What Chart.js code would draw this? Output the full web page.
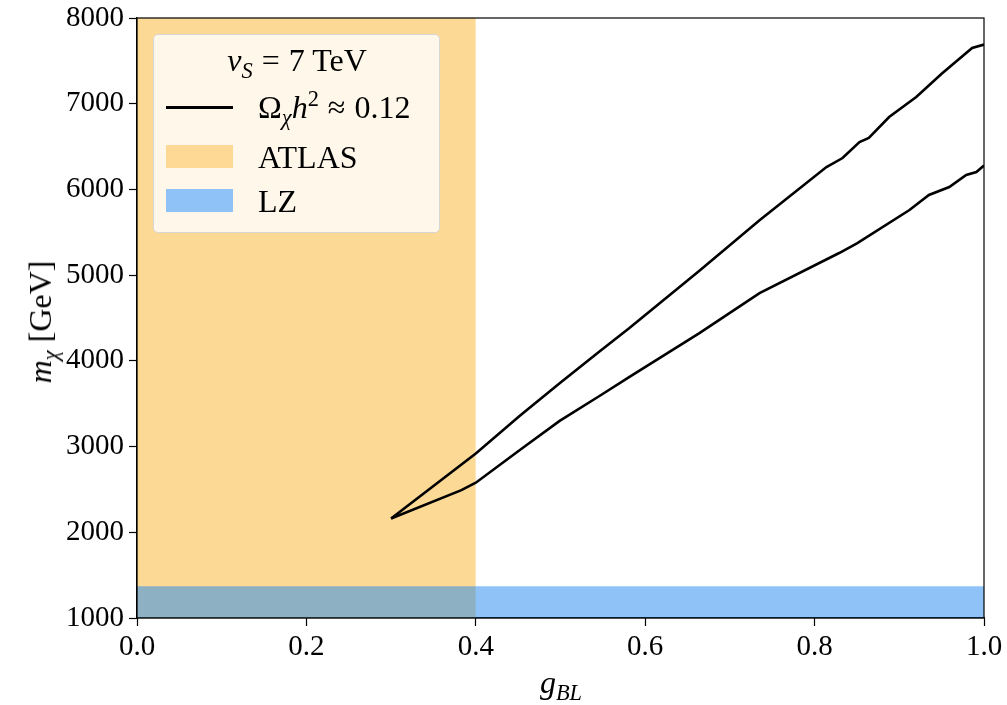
<!DOCTYPE html>
<html>
<head>
<meta charset="utf-8">
<script src="https://cdn.jsdelivr.net/npm/chart.js@4"></script>
<style>
  body { margin: 0; background: #fff; }
  #wrap { position: relative; width: 1007px; height: 705px; font-family: "Liberation Serif", serif; color: #000; }
  #wrap canvas { position: absolute; left: 0; top: 0; }
  .ov { position: absolute; white-space: nowrap; font-size: 32px; line-height: 36px; }
  .it { font-style: italic; }
  .op { padding: 0 9px; }
  sub, sup { font-size: 70%; line-height: 0; }
  #legend { position: absolute; left: 153px; top: 34px; width: 285px; height: 197px;
            background: rgba(255,255,255,0.8); border: 1px solid #d6d6d6; border-radius: 5px; }
  .swatch { position: absolute; left: 166px; width: 67px; }
</style>
</head>
<body>
<div id="wrap">
  <canvas id="chart" width="1007" height="705"></canvas>
  <div id="legend"></div>
  <div class="ov" style="left:0; top:42px; width:594px; text-align:center;"><span class="it">v<sub>S</sub></span><span class="op">=</span>7 TeV</div>
  <div class="swatch" style="top:106px; height:2.5px; background:#000;"></div>
  <div class="ov" style="left:258px; top:89px;">Ω<sub class="it">χ</sub><span class="it">h</span><sup>2</sup><span class="op">≈</span>0.12</div>
  <div class="swatch" style="top:145px; height:23px; background:#fdd995;"></div>
  <div class="ov" style="left:258px; top:139px;">ATLAS</div>
  <div class="swatch" style="top:189px; height:23px; background:#8fc3f8;"></div>
  <div class="ov" style="left:258px; top:183px;">LZ</div>
  <div class="ov" style="left:40px; top:322px; transform: translate(-50%,-50%) rotate(-90deg);"><span class="it">m<sub>χ</sub></span>&nbsp;[GeV]</div>
  <div class="ov" style="left:561px; top:682px; transform: translate(-50%,-50%);"><span class="it">g<sub>BL</sub></span></div>
</div>
<script>
// relic density curve, upper branch
const upperG = [0.30, 0.35, 0.40, 0.452, 0.499, 0.546, 0.581, 0.664, 0.735, 0.814, 0.833, 0.853, 0.864, 0.888, 0.92, 0.95, 0.986, 1.0];
const upperM = [2160, 2540, 2920, 3360, 3740, 4110, 4380, 5050, 5640, 6261, 6366, 6553, 6600, 6845, 7078, 7350, 7650, 7690];
// lower branch
const lowerG = [0.30, 0.383, 0.40, 0.452, 0.499, 0.546, 0.581, 0.664, 0.735, 0.829, 0.85, 0.912, 0.935, 0.959, 0.979, 0.991, 1.0];
const lowerM = [2160, 2492, 2578, 2960, 3300, 3590, 3811, 4324, 4791, 5258, 5370, 5760, 5935, 6028, 6168, 6203, 6280];

// excluded regions
const atlasGMax = 0.4;
const lzMassMax = 1370;

const xTicks = [0, 0.2, 0.4, 0.6, 0.8, 1.0];
const yTicks = [1000, 2000, 3000, 4000, 5000, 6000, 7000, 8000];

const toPts = (xs, ys) => xs.map((x, i) => ({ x: x, y: ys[i] }));

const frame = {
    id: 'frame',
    afterDatasetsDraw(chart) {
        const a = chart.chartArea, c = chart.ctx;
        c.save();
        c.strokeStyle = '#000';
        c.lineWidth = 1.2;
        c.strokeRect(a.left, a.top, a.right - a.left, a.bottom - a.top);
        c.restore();
    }
};

const tickFont = { family: 'Liberation Serif', size: 29 };

new Chart(document.getElementById('chart'), {
    type: 'line',
    data: {
        datasets: [
            {
                data: toPts(upperG, upperM),
                borderColor: '#000', borderWidth: 2.6, pointRadius: 0, tension: 0, order: 0
            },
            {
                data: toPts(lowerG, lowerM),
                borderColor: '#000', borderWidth: 2.6, pointRadius: 0, tension: 0, order: 0
            },
            {
                data: [{ x: 0, y: lzMassMax }, { x: 1, y: lzMassMax }],
                borderWidth: 0, pointRadius: 0, fill: 'start',
                backgroundColor: 'rgba(31,135,241,0.5)', order: 1
            },
            {
                data: [{ x: 0, y: 8000 }, { x: atlasGMax, y: 8000 }],
                borderWidth: 0, pointRadius: 0, fill: 'start',
                backgroundColor: 'rgba(251,179,45,0.5)', order: 2
            }
        ]
    },
    options: {
        responsive: false,
        animation: false,
        layout: { padding: { top: 18, right: 23, left: 0, bottom: 0 } },
        plugins: { legend: { display: false }, tooltip: { enabled: false } },
        scales: {
            x: {
                type: 'linear', min: 0, max: 1,
                afterBuildTicks: s => { s.ticks = xTicks.map(v => ({ value: v })); },
                afterFit: s => { s.height = 87; },
                ticks: { font: tickFont, color: '#000', padding: 4, callback: v => v.toFixed(1), maxRotation: 0 },
                grid: { drawOnChartArea: false, tickLength: 8, tickColor: '#000', tickWidth: 1.2 },
                border: { color: '#000', width: 1.2 }
            },
            y: {
                type: 'linear', min: 1000, max: 8000,
                afterBuildTicks: s => { s.ticks = yTicks.map(v => ({ value: v })); },
                afterFit: s => { s.width = 137; s.paddingTop = 0; s.paddingBottom = 0; },
                ticks: { font: tickFont, color: '#000', padding: 5, callback: v => String(v) },
                grid: { drawOnChartArea: false, tickLength: 8, tickColor: '#000', tickWidth: 1.2 },
                border: { color: '#000', width: 1.2 }
            }
        }
    },
    plugins: [frame]
});
</script>
</body>
</html>
